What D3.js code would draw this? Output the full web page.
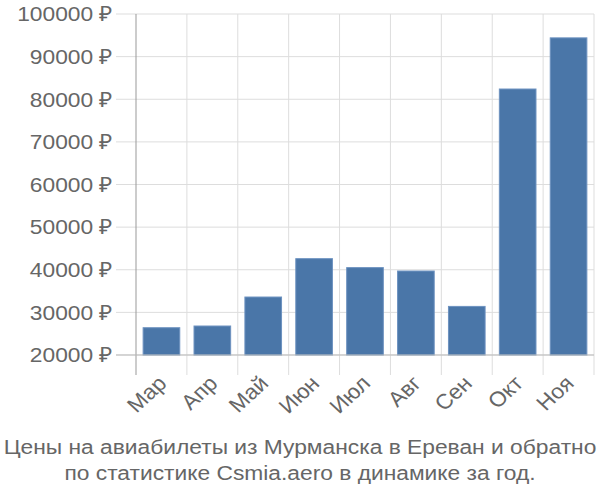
<!DOCTYPE html>
<html><head><meta charset="utf-8">
<script src="https://cdn.jsdelivr.net/npm/d3@7"></script>
<style>body{margin:0;background:#fff}text{font-family:"Liberation Sans",Arial,sans-serif;fill:#666}</style>
</head><body><svg id="c" width="600" height="500"></svg>
<script>
const categories = ["Мар","Апр","Май","Июн","Июл","Авг","Сен","Окт","Ноя"];
const values = [26400, 26800, 33600, 42600, 40500, 39700, 31400, 82400, 94400];
const yTicks = [20000,30000,40000,50000,60000,70000,80000,90000,100000];
const titleLines = ["Цены на авиабилеты из Мурманска в Ереван и обратно","по статистике Csmia.aero в динамике за год."];

const svg = d3.select("#c");
const pLeft = 136, pRight = 594, pTop = 14, pBottom = 355;
const sx = 1.085, fs = 21;
const x = d3.scaleBand().domain(categories).range([pLeft, pRight]).paddingInner(0.28).paddingOuter(0.14);
const xb = d3.scaleBand().domain(categories).range([pLeft, pRight]);
const y = d3.scaleLinear().domain([20000, 100000]).range([pBottom, pTop]);

// horizontal grid
svg.append("g").selectAll("line").data(yTicks).join("line")
  .attr("x1", pLeft - 20).attr("x2", pRight).attr("y1", d => y(d)).attr("y2", d => y(d))
  .attr("stroke", "#ddd").attr("stroke-width", 1);
// vertical grid
svg.append("g").selectAll("line").data(categories).join("line")
  .attr("x1", d => xb(d) + xb.bandwidth()).attr("x2", d => xb(d) + xb.bandwidth())
  .attr("y1", pTop).attr("y2", pBottom + 20)
  .attr("stroke", "#ddd").attr("stroke-width", 1);

// y labels
svg.append("g").selectAll("text").data(yTicks).join("text")
  .attr("transform", d => `translate(${pLeft - 23},${y(d)}) scale(${sx},1)`)
  .attr("dy", "0.35em")
  .attr("text-anchor", "end").attr("font-size", fs)
  .text(d => d + " ₽");

// bars
svg.append("g").selectAll("rect").data(values).join("rect")
  .attr("x", (d,i) => x(categories[i])).attr("width", x.bandwidth())
  .attr("y", d => y(d)).attr("height", d => y(20000) - y(d))
  .attr("fill", "#4a76a8").attr("stroke", "#6d92c0").attr("stroke-width", 1);

// axes lines
svg.append("line").attr("x1", pLeft).attr("x2", pLeft).attr("y1", pTop).attr("y2", pBottom + 20)
  .attr("stroke", "#999").attr("stroke-width", 1);
svg.append("line").attr("x1", pLeft - 20).attr("x2", pRight).attr("y1", pBottom).attr("y2", pBottom)
  .attr("stroke", "#bbb").attr("stroke-width", 1);

// x labels
svg.append("g").selectAll("text").data(categories).join("text")
  .attr("transform", d => `translate(${xb(d) + xb.bandwidth()/2 - 5},${pBottom + 19}) scale(${sx},1) rotate(-45)`)
  .attr("text-anchor", "end").attr("dy", "0.72em").attr("font-size", fs)
  .text(d => d);

// title
svg.append("g").selectAll("text").data(titleLines).join("text")
  .attr("transform", (d,i) => `translate(300,${454 + i*26}) scale(${sx},1)`)
  .attr("text-anchor", "middle").attr("font-size", fs)
  .text(d => d);
</script></body></html>
